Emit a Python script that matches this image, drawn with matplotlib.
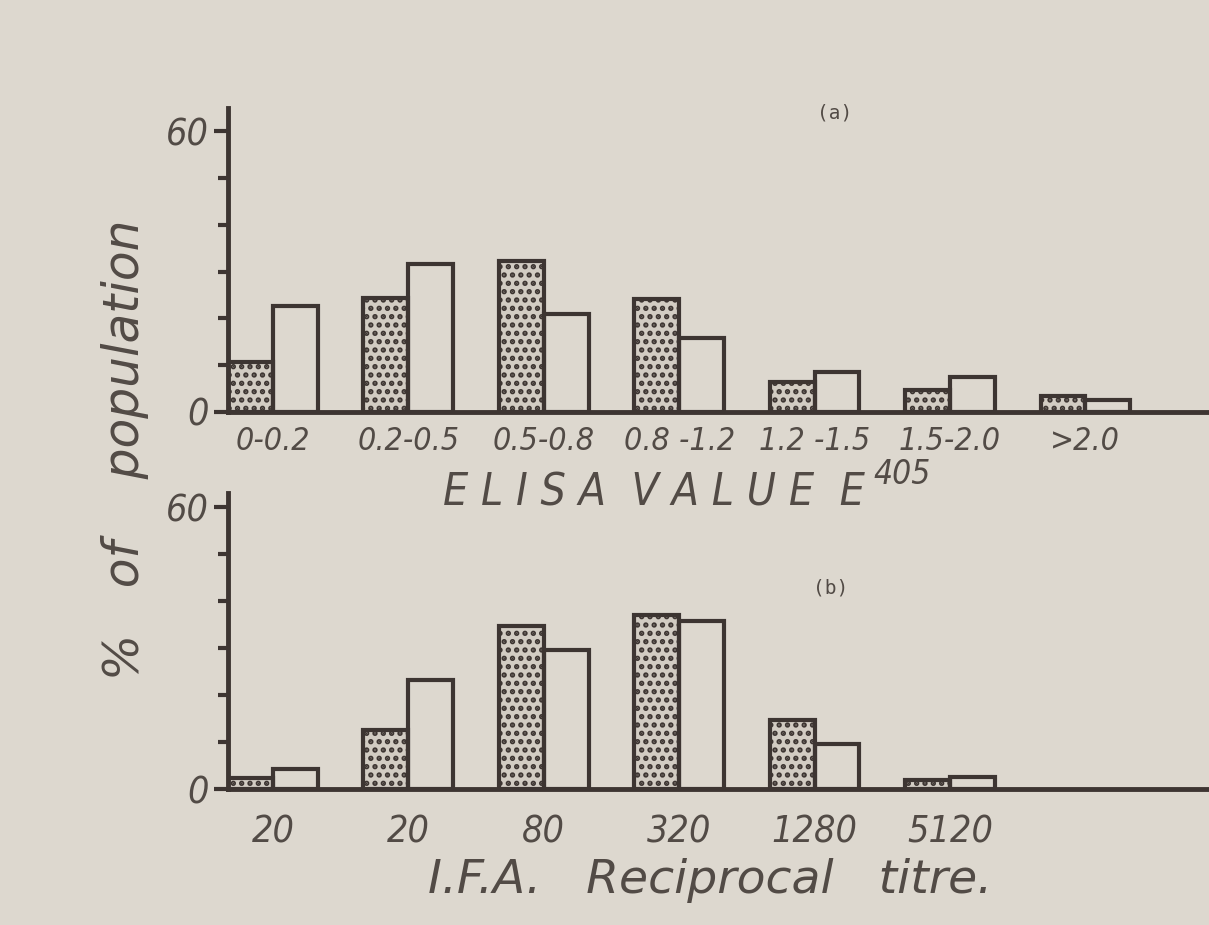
import matplotlib
matplotlib.use("Agg")
import matplotlib.pyplot as plt
import numpy as np

# panel (a): ELISA value classes
elisa_labels=["0-0.2","0.2-0.5","0.5-0.8","0.8 -1.2","1.2 -1.5","1.5-2.0",">2.0"]
elisa_stippled=[10.7,24.4,32.3,24.1,6.4,4.7,3.4]
elisa_open=[22.6,31.6,20.9,15.8,8.5,7.5,2.6]
# panel (b): IFA reciprocal titre
ifa_labels=["20","20","80","320","1280","5120"]
ifa_stippled=[2.3,12.6,34.7,37.0,14.7,1.9]
ifa_open=[4.3,23.2,29.6,35.7,9.6,2.6]

paper="#ddd8cf";ink="#3d3532";txt="#524b46"
font=dict(family="DejaVu Sans",style="italic",stretch="condensed",color=txt)
wide=dict(family="DejaVu Sans",style="italic",color=txt)
plt.rcParams["hatch.linewidth"]=2.6
plt.rcParams["hatch.color"]="#6e6660"

fig=plt.figure(figsize=(12.09,9.25),dpi=100,facecolor=paper)
w=0.34


def panel(rect,ytop,labels,stip,opn,size,pad):
    ax=fig.add_axes(rect);ax.set_facecolor(paper)
    x=np.arange(len(labels))*1.0257
    ax.bar(x,stip,w,align="edge",facecolor="#d2ccc3",edgecolor=ink,linewidth=3,hatch="..")
    ax.bar(x+w,opn,w,align="edge",facecolor="none",edgecolor=ink,linewidth=3)
    ax.set_xlim(0,7.43);ax.set_ylim(0,ytop)
    for s in ["top","right"]:ax.spines[s].set_visible(False)
    for s in ["left","bottom"]:ax.spines[s].set_color(ink);ax.spines[s].set_linewidth(3.5)
    ax.set_yticks([0,60]);ax.set_yticks(range(10,60,10),minor=True)
    ax.set_yticklabels(["0","60"],fontsize=27,**font)
    ax.tick_params(axis="y",which="major",length=10,width=3,color=ink,pad=4)
    ax.tick_params(axis="y",which="minor",length=7,width=3,color=ink)
    ax.set_xticks(x+w);ax.set_xticklabels(labels,fontsize=size,**font)
    ax.tick_params(axis="x",length=0,pad=pad)
    return ax


axa=panel([0.1886,0.5546,0.8114,0.3286],65,elisa_labels,elisa_stippled,elisa_open,23,10)
axb=panel([0.1886,0.147,0.8114,0.32],63,ifa_labels,ifa_stippled,ifa_open,27,18)

fig.text(0.7155,0.454,"E L I S A  V A L U E  E",ha="right",va="baseline",fontsize=32,**font)
fig.text(0.7225,0.477,"405",ha="left",va="baseline",fontsize=24,**font)
fig.text(0.587,0.035,"I.F.A.   Reciprocal   titre.",ha="center",va="baseline",fontsize=34,**wide)
fig.text(0.103,0.5135,"%   of    population",rotation=90,ha="center",va="center",fontsize=35,**wide)
fig.text(0.69,0.878,"(a)",ha="center",va="center",fontsize=14,color=txt,family="DejaVu Sans Mono")
fig.text(0.687,0.364,"(b)",ha="center",va="center",fontsize=14,color=txt,family="DejaVu Sans Mono")

fig.savefig("out.png",dpi=100,facecolor=paper)
